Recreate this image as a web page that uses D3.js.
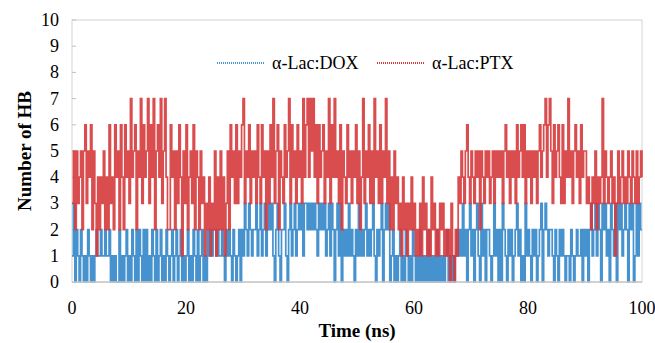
<!DOCTYPE html>
<html>
<head>
<meta charset="utf-8">
<script src="https://cdn.jsdelivr.net/npm/d3@7"></script>
<style>
  body { margin: 0; background: #fff; }
</style>
</head>
<body>
<div id="chart"></div>
<script>
// hydrogen bond counts, one digit per 0.25 ns, 10 ns per block
const ptxBlocks = [
  '3525345256354625314243524263426452642645',
  '3745625473645736472564735742264525364153',
  '6245362542534132413251425241352645363546',
  '7354635453643645253647356254364573645364',
  '5374674757463645635473647453625436453546',
  '3524735463537453635473524253423142313242',
  '3121314231214231213231212031021435435643',
  '5435452543545345354545356453545364564635',
  '4535453564567467536456436354745356453645',
  '5343243524347354345341353453435435435345',
  '4'
];
const doxBlocks = [
  '1302102101021010121121121120101002010120',
  '1021020210202010210201201021012012012010',
  '1201021020120102121221211210212102101202',
  '1321321223123123123231023102231023123123',
  '2313323232321323231231320231302121312102',
  '1312123121231021230232301201012010210102',
  '1010201010201010201010120101012121312023',
  '1202310312022101312020321021201231201031',
  '2102120123023212210210212101102101211202',
  '1202312313203231203213032312320323013132',
  '2'
];
const timeStep = 0.25;
const xTicks = [0, 20, 40, 60, 80, 100];
const yTicks = [0, 1, 2, 3, 4, 5, 6, 7, 8, 9, 10];
const seriesNames = ['\u03b1-Lac:DOX', '\u03b1-Lac:PTX'];
const seriesColors = ['#4592cf', '#d63a3c'];

const toValues = blocks => blocks.join('').split('').map(Number);
const dox = toValues(doxBlocks);
const ptx = toValues(ptxBlocks);

const width = 655;
const height = 343;
const margin = {top: 20, right: 13, bottom: 61, left: 72};
const serif = "'Liberation Serif', 'Times New Roman', 'DejaVu Serif', serif";

const svg = d3.select('#chart').append('svg')
    .attr('width', width)
    .attr('height', height)
    .attr('font-family', serif);

const x = d3.scaleLinear().domain([0, 100]).range([margin.left, width - margin.right]);
const y = d3.scaleLinear().domain([0, 10]).range([height - margin.bottom, margin.top]);

// plot frame
svg.append('rect')
    .attr('x', x(0)).attr('y', y(10))
    .attr('width', x(100) - x(0)).attr('height', y(0) - y(10))
    .attr('fill', '#fff')
    .attr('stroke', '#d4d4d4');

// y ticks (small, inside)
svg.append('g')
    .selectAll('line')
    .data(yTicks)
    .join('line')
    .attr('x1', x(0)).attr('x2', x(0) + 4)
    .attr('y1', d => y(d)).attr('y2', d => y(d))
    .attr('stroke', '#bfbfbf');

const line = d3.line()
    .curve(d3.curveStepAfter)
    .x((d, i) => x(i * timeStep))
    .y(d => y(d));

const plot = svg.append('g');

plot.append('path')
    .datum(dox)
    .attr('d', line)
    .attr('fill', 'none')
    .attr('stroke', seriesColors[0])
    .attr('stroke-width', 1.7);

plot.append('path')
    .datum(ptx)
    .attr('d', line)
    .attr('fill', 'none')
    .attr('stroke', seriesColors[1])
    .attr('stroke-opacity', 0.9)
    .attr('stroke-width', 1.7);

// bottom axis line
svg.append('line')
    .attr('x1', x(0)).attr('x2', x(100))
    .attr('y1', y(0)).attr('y2', y(0))
    .attr('stroke', '#c8c8c8')
    .attr('stroke-width', 1.5);

// tick labels
svg.append('g')
    .selectAll('text')
    .data(yTicks)
    .join('text')
    .attr('x', x(0) - 13)
    .attr('y', d => y(d) + 6)
    .attr('text-anchor', 'end')
    .style('font-size', '18px')
    .text(d => d);

svg.append('g')
    .selectAll('text')
    .data(xTicks)
    .join('text')
    .attr('x', d => x(d))
    .attr('y', 314)
    .attr('text-anchor', 'middle')
    .style('font-size', '18px')
    .text(d => d);

// axis titles
svg.append('text')
    .attr('x', (x(0) + x(100)) / 2)
    .attr('y', 337)
    .attr('text-anchor', 'middle')
    .style('font-size', '19px')
    .style('font-weight', 'bold')
    .text('Time (ns)');

svg.append('text')
    .attr('transform', `translate(31,${(y(0) + y(10)) / 2}) rotate(-90)`)
    .attr('text-anchor', 'middle')
    .style('font-size', '19px')
    .style('font-weight', 'bold')
    .text('Number of HB');

// legend
const legendX = [217, 377];
const legend = svg.append('g')
    .selectAll('g')
    .data(seriesNames)
    .join('g')
    .attr('transform', (d, i) => `translate(${legendX[i]},63)`);

legend.append('line')
    .attr('x1', 0).attr('x2', 47)
    .attr('stroke', (d, i) => seriesColors[i])
    .attr('stroke-width', 2)
    .attr('stroke-dasharray', '1,1');

legend.append('text')
    .attr('x', 55)
    .attr('y', 6)
    .style('font-size', '18px')
    .text(d => d);
</script>
</body>
</html>
